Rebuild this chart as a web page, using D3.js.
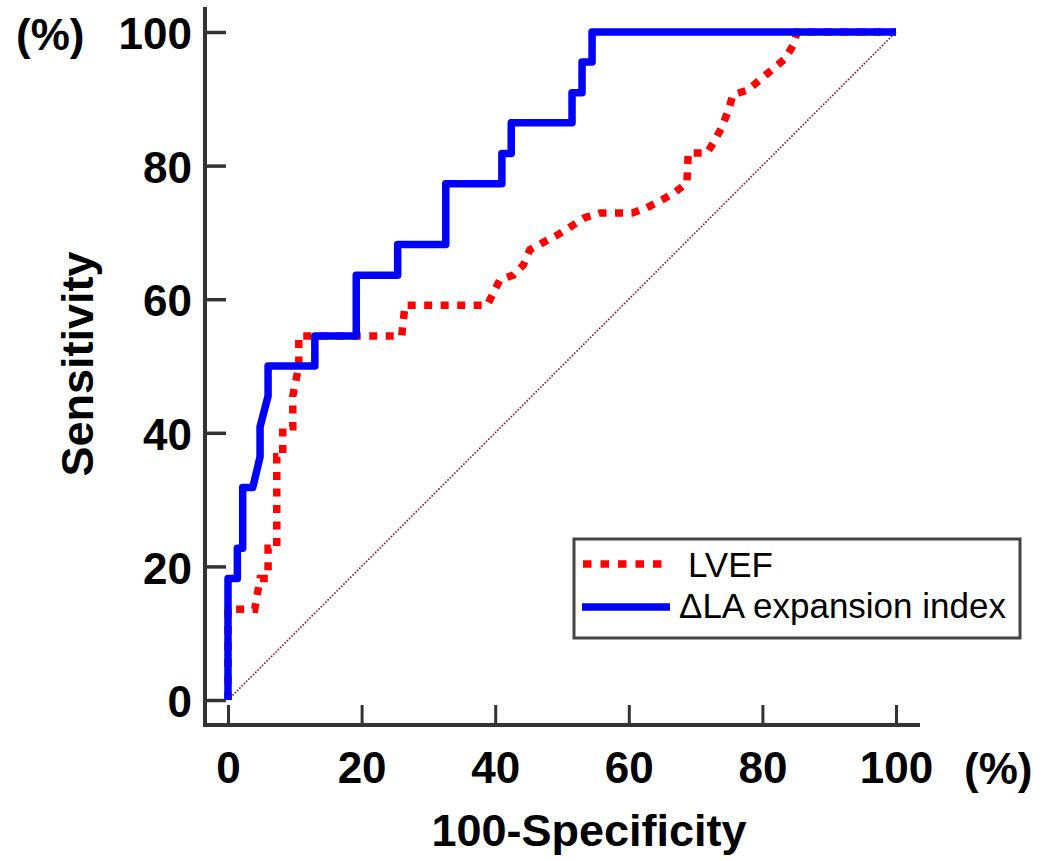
<!DOCTYPE html>
<html>
<head>
<meta charset="utf-8">
<script src="https://cdn.jsdelivr.net/npm/d3@7/dist/d3.min.js"></script>
<style>
  html, body { margin: 0; padding: 0; background: #fff; }
  svg { display: block; font-family: "Liberation Sans", Arial, sans-serif; }
</style>
</head>
<body>
<svg id="chart" width="1042" height="861"></svg>
<script>
// ROC curves: 100-Specificity (%) vs Sensitivity (%)
const laFpr = [0, 0, 1.4, 1.4, 2.2, 2.2, 3.7, 4.8, 4.8, 6.0, 6.0, 13.0, 13.0, 19.2, 19.2, 25.4, 25.4, 32.6, 32.6, 41.0, 41.0, 42.4, 42.4, 51.5, 51.5, 53.0, 53.0, 54.5, 54.5, 100];
const laTpr = [0, 18.2, 18.2, 22.7, 22.7, 31.8, 31.8, 36.4, 40.9, 45.5, 50.0, 50.0, 54.5, 54.5, 63.6, 63.6, 68.2, 68.2, 77.3, 77.3, 81.8, 81.8, 86.4, 86.4, 90.9, 90.9, 95.5, 95.5, 100, 100];

const lvefFpr = [0, 0, 4.0, 4.8, 6.0, 6.0, 7.3, 7.3, 8.2, 8.2, 9.7, 9.7, 10.6, 10.6, 26.0, 26.5, 38.8, 40.7, 42.7, 44.2, 45.2, 47.0, 49.3, 51.2, 53.4, 55.7, 60.5, 62.7, 65.0, 66.9, 68.7, 68.9, 71.7, 72.9, 74.0, 74.9, 75.6, 77.8, 79.6, 81.6, 83.4, 84.6, 85.2, 100];
const lvefTpr = [0, 13.6, 13.6, 18.2, 18.2, 22.7, 22.7, 36.4, 36.4, 40.9, 40.9, 45.5, 50.0, 54.5, 54.5, 59.1, 59.1, 62.9, 63.6, 65.1, 67.4, 68.4, 69.6, 70.8, 72.2, 72.9, 72.9, 73.7, 74.9, 76.0, 77.4, 81.9, 81.9, 83.8, 85.9, 88.3, 90.6, 91.3, 92.8, 94.5, 96.0, 98.0, 100, 100];

const refFpr = [0, 100];
const refTpr = [0, 100];

const xTicks = [0, 20, 40, 60, 80, 100];
const yTicks = [0, 20, 40, 60, 80, 100];
const seriesNames = ["LVEF", "\u0394LA expansion index"];

const svg = d3.select("#chart");
const x = d3.scaleLinear().domain([0, 100]).range([228, 896]);
const y = d3.scaleLinear().domain([0, 100]).range([700, 32]);

const axisColor = "#333";
const boldFont = 'bold 44px "Liberation Sans", Arial, sans-serif';

// Axis lines
svg.append("line").attr("x1", 205).attr("x2", 205).attr("y1", 7).attr("y2", 727)
  .attr("stroke", axisColor).attr("stroke-width", 4);
svg.append("line").attr("x1", 203).attr("x2", 920).attr("y1", 725).attr("y2", 725)
  .attr("stroke", axisColor).attr("stroke-width", 4);

// Y axis ticks (pointing inward) and labels
const yAxis = d3.axisLeft(y).tickValues(yTicks).tickSizeInner(-21).tickSizeOuter(0).tickPadding(13);
const gy = svg.append("g").attr("transform", "translate(205,0)").call(yAxis);
gy.select(".domain").remove();
gy.selectAll(".tick line").attr("stroke", axisColor).attr("stroke-width", 3.5);
gy.selectAll(".tick text").attr("fill", "#000").style("font", boldFont)
  .attr("dy", "0.38em");

// X axis ticks (pointing inward) and labels
const xAxis = d3.axisBottom(x).tickValues(xTicks).tickSizeInner(-20).tickSizeOuter(0).tickPadding(27);
const gx = svg.append("g").attr("transform", "translate(0,725)").call(xAxis);
gx.select(".domain").remove();
gx.selectAll(".tick line").attr("stroke", axisColor).attr("stroke-width", 3);
gx.selectAll(".tick text").attr("fill", "#000").style("font", boldFont);

// Unit labels and axis titles
svg.append("text").attr("x", 16).attr("y", 50).style("font", boldFont).text("(%)");
svg.append("text").attr("x", 964).attr("y", 784).style("font", boldFont).text("(%)");
svg.append("text").attr("x", 589).attr("y", 846).attr("text-anchor", "middle")
  .style("font", 'bold 45px "Liberation Sans", Arial, sans-serif').text("100-Specificity");
svg.append("text").attr("transform", "translate(93,364) rotate(-90)").attr("text-anchor", "middle")
  .style("font", 'bold 45px "Liberation Sans", Arial, sans-serif').text("Sensitivity");

const line = d3.line().x(d => x(d[0])).y(d => y(d[1]));
const zip = (a, b) => a.map((v, i) => [v, b[i]]);

// Reference diagonal
svg.append("path").datum(zip(refFpr, refTpr)).attr("d", line)
  .attr("fill", "none").attr("stroke", "#8b1a1a").attr("stroke-width", 1.6)
  .attr("stroke-dasharray", "1.6,1.6");

// LVEF curve (dotted red)
svg.append("path").datum(zip(lvefFpr, lvefTpr)).attr("d", line)
  .attr("fill", "none").attr("stroke", "#ff0000").attr("stroke-width", 7.5)
  .attr("stroke-dasharray", "8,8.5").attr("stroke-linejoin", "miter");

// ΔLA expansion index curve (solid blue)
svg.append("path").datum(zip(laFpr, laTpr)).attr("d", line)
  .attr("fill", "none").attr("stroke", "#0000ff").attr("stroke-width", 7.5)
  .attr("stroke-linejoin", "round").attr("stroke-linecap", "butt");

// Legend
const lg = svg.append("g");
lg.append("rect").attr("x", 574).attr("y", 539).attr("width", 446).attr("height", 99)
  .attr("fill", "#fff").attr("stroke", "#444").attr("stroke-width", 3);
lg.append("line").attr("x1", 583).attr("x2", 670).attr("y1", 564).attr("y2", 564)
  .attr("stroke", "#ff0000").attr("stroke-width", 7.5).attr("stroke-dasharray", "8.5,9");
lg.append("line").attr("x1", 582).attr("x2", 670).attr("y1", 607).attr("y2", 607)
  .attr("stroke", "#0000ff").attr("stroke-width", 7.5);
lg.append("text").attr("x", 688).attr("y", 577).style("font", '35px "Liberation Sans", Arial, sans-serif')
  .text(seriesNames[0]);
lg.append("text").attr("x", 679).attr("y", 618).style("font", '35px "Liberation Sans", Arial, sans-serif')
  .text(seriesNames[1]);
</script>
</body>
</html>
